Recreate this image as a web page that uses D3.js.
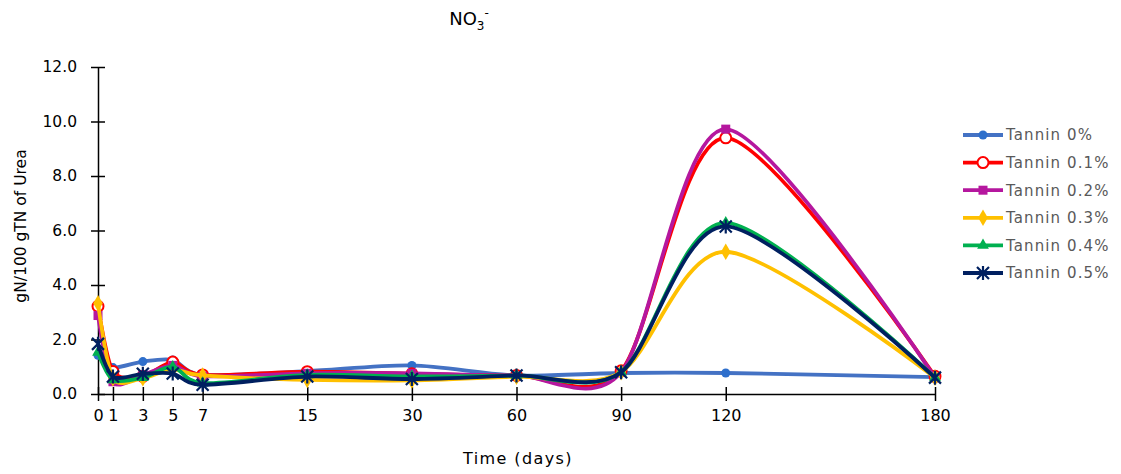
<!DOCTYPE html>
<html>
<head>
<meta charset="utf-8">
<script src="https://cdn.jsdelivr.net/npm/d3@7"></script>
<style>
  body { margin: 0; background: #fff; }
  text { font-family: "DejaVu Sans", Verdana, sans-serif; }
</style>
</head>
<body>
<div id="chart-container"></div>
<script>
// data
const days = [0, 1, 3, 5, 7, 15, 30, 60, 90, 120, 180];
const tannin0  = [1.42, 0.97, 1.19, 1.25, 0.70, 0.84, 1.05, 0.68, 0.77, 0.77, 0.62];
const tannin01 = [3.22, 0.83, 0.65, 1.17, 0.70, 0.82, 0.74, 0.68, 0.85, 9.40, 0.65];
const tannin02 = [2.88, 0.45, 0.70, 1.05, 0.65, 0.76, 0.76, 0.68, 0.80, 9.72, 0.60];
const tannin03 = [3.33, 0.58, 0.58, 0.90, 0.68, 0.52, 0.50, 0.64, 0.80, 5.22, 0.60];
const tannin04 = [1.53, 0.52, 0.60, 1.00, 0.40, 0.70, 0.65, 0.68, 0.80, 6.28, 0.60];
const tannin05 = [1.84, 0.64, 0.74, 0.75, 0.34, 0.64, 0.55, 0.68, 0.80, 6.15, 0.60];
const seriesNames = ["Tannin 0%", "Tannin 0.1%", "Tannin 0.2%", "Tannin 0.3%", "Tannin 0.4%", "Tannin 0.5%"];
const yTicks = [0, 2, 4, 6, 8, 10, 12];

const colors = ["#4472C4", "#FF0000", "#B5179E", "#FFC000", "#00B050", "#002060"];
const markerFill = ["#2E6FCC", "#FFFFFF", "#B5179E", "#FFC000", "#00B050", "#002060"];
const shapes = ["circle", "ring", "square", "diamond", "triangle", "star"];

// dimensions
const margin = {top: 67, right: 186, bottom: 80, left: 98};
const width = 1121 - margin.left - margin.right;
const height = 474 - margin.top - margin.bottom;

// x axis in the original is spaced by "slots", not by day count
const breaks = [0, 7, 15, 30, 60, 90, 120, 180];
const slots  = [0, 7, 14, 21, 28, 35, 42, 56];
const xSlot = d3.scaleLinear().domain([0, 56]).range([0, width]);
const x = d3.scaleLinear().domain(breaks).range(slots.map(xSlot));
const y = d3.scaleLinear().domain([0, 12]).range([height, 0]);

const svg0 = d3.select("#chart-container")
  .append("svg")
  .attr("width", 1121)
  .attr("height", 474);

const svg = svg0.append("g")
  .attr("transform", `translate(${margin.left},${margin.top})`);

// title
const title = svg0.append("text")
  .attr("x", 469)
  .attr("y", 25)
  .attr("text-anchor", "middle")
  .attr("font-size", 18)
  .attr("fill", "#000");
title.append("tspan").text("NO");
title.append("tspan").attr("font-size", 12).attr("dy", 5).text("3");
title.append("tspan").attr("font-size", 12).attr("dy", -13).text("-");

// y axis
const yAxis = svg.append("g")
  .call(d3.axisLeft(y).tickValues(yTicks).tickFormat(d3.format(".1f"))
    .tickSizeInner(7).tickSizeOuter(0).tickPadding(14));
yAxis.selectAll(".tick line").attr("x1", 7);
yAxis.selectAll("text").attr("font-size", 15.5).attr("fill", "#000");
yAxis.select(".domain").attr("stroke-width", 1.5);
yAxis.selectAll(".tick line").attr("stroke-width", 1.5);

// x axis
const xAxis = svg.append("g")
  .attr("transform", `translate(0,${height})`)
  .call(d3.axisBottom(x).tickValues(days).tickFormat(d3.format("d"))
    .tickSizeInner(7).tickSizeOuter(0).tickPadding(9));
xAxis.selectAll(".tick line").attr("y1", -7).attr("stroke-width", 1.5);
xAxis.selectAll("text").attr("font-size", 16).attr("fill", "#000");
xAxis.select(".domain").attr("stroke-width", 1.5);

// axis titles
svg0.append("text")
  .attr("x", 518)
  .attr("y", 464)
  .attr("text-anchor", "middle")
  .attr("font-size", 16)
  .attr("letter-spacing", 1.4)
  .text("Time (days)");

svg0.append("text")
  .attr("transform", "translate(26,226) rotate(-90)")
  .attr("text-anchor", "middle")
  .attr("font-size", 15.5)
  .text("gN/100 gTN of Urea");

// series
const allSeries = [tannin0, tannin01, tannin02, tannin03, tannin04, tannin05];

const line = d3.line()
  .x((d, i) => x(days[i]))
  .y(d => y(d))
  .curve(d3.curveCardinal.tension(0.15));

function drawMarker(g, shape, i) {
  const c = colors[i], f = markerFill[i];
  if (shape === "circle") {
    g.append("circle").attr("r", 4.5).attr("fill", f);
  } else if (shape === "ring") {
    g.append("circle").attr("r", 5.5).attr("fill", "#fff").attr("stroke", c).attr("stroke-width", 2);
  } else if (shape === "square") {
    g.append("rect").attr("x", -4.5).attr("y", -4.5).attr("width", 9).attr("height", 9).attr("fill", f);
  } else if (shape === "diamond") {
    g.append("path").attr("d", d3.symbol(d3.symbolDiamond, 80)()).attr("fill", f);
  } else if (shape === "triangle") {
    g.append("path").attr("d", d3.symbol(d3.symbolTriangle, 60)()).attr("fill", f);
  } else if (shape === "star") {
    g.append("path").attr("d", "M-6,-6L6,6M-6,6L6,-6M0,-7L0,7")
      .attr("stroke", c).attr("stroke-width", 2.2).attr("fill", "none");
  }
}

allSeries.forEach((vals, i) => {
  svg.append("path")
    .datum(vals)
    .attr("fill", "none")
    .attr("stroke", colors[i])
    .attr("stroke-width", 3.8)
    .attr("d", line);
  vals.forEach((v, j) => {
    const g = svg.append("g").attr("transform", `translate(${x(days[j])},${y(v)})`);
    drawMarker(g, shapes[i], i);
  });
});

// legend
const legend = svg0.append("g").attr("transform", "translate(963,135)");
seriesNames.forEach((name, i) => {
  const row = legend.append("g").attr("transform", `translate(0,${i * 27.6})`);
  row.append("line").attr("x1", 0).attr("x2", 40)
    .attr("stroke", colors[i]).attr("stroke-width", 3.8);
  const m = row.append("g").attr("transform", "translate(20,0)");
  drawMarker(m, shapes[i], i);
  row.append("text")
    .attr("x", 43)
    .attr("dy", "0.36em")
    .attr("font-size", 15)
    .attr("letter-spacing", 1.1)
    .attr("fill", "#595959")
    .text(name);
});
</script>
</body>
</html>
